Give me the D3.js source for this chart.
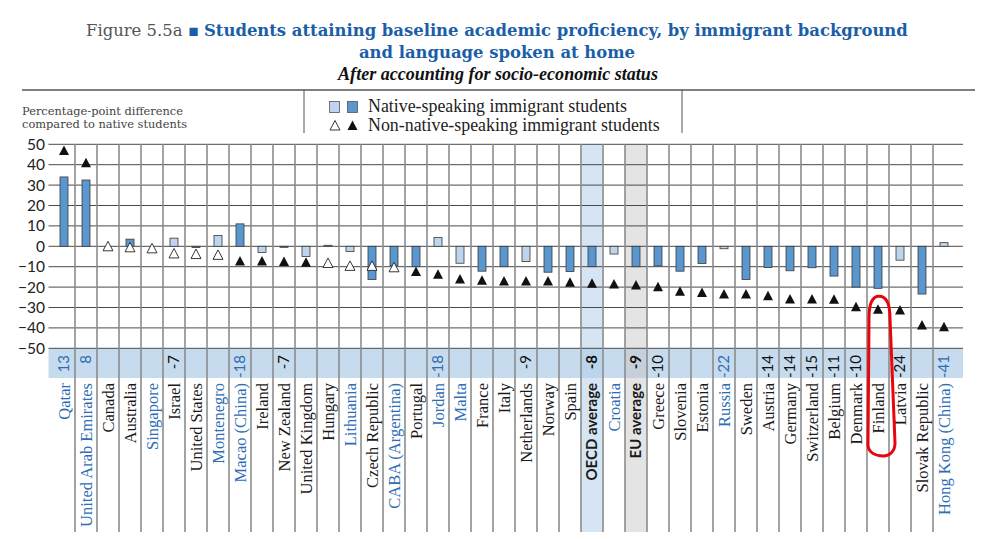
<!DOCTYPE html>
<html><head><meta charset="utf-8">
<script src="https://cdn.jsdelivr.net/npm/d3@7"></script>
<style>body{margin:0;background:#fff}svg{display:block}</style>
</head><body>
<svg id="c" width="1000" height="539"></svg>
<script>
const countries = ["Qatar","United Arab Emirates","Canada","Australia","Singapore","Israel","United States","Montenegro","Macao (China)","Ireland","New Zealand","United Kingdom","Hungary","Lithuania","Czech Republic","CABA (Argentina)","Portugal","Jordan","Malta","France","Italy","Netherlands","Norway","Spain","OECD average","Croatia","EU average","Greece","Slovenia","Estonia","Russia","Sweden","Austria","Germany","Switzerland","Belgium","Denmark","Finland","Latvia","Slovak Republic","Hong Kong (China)"];
const partner = ["Qatar","United Arab Emirates","Singapore","Montenegro","Macao (China)","Lithuania","CABA (Argentina)","Jordan","Malta","Croatia","Russia","Hong Kong (China)"];
const averages = ["OECD average","EU average"];
// Native-speaking immigrant students (bars); sig = 1 dark, 0 light
const nativeValues = [34,32.5,null,3.5,null,4,-0.6,5.3,11,-3,-0.5,-5,0.5,-2.5,-16.3,-9.5,-10,4.3,-8.3,-12.2,-10,-7.5,-12.7,-12.4,-10,-3.8,-10,-9.6,-12.2,-8.4,-1.2,-16.3,-10.4,-12,-10.5,-14.6,-20,-20.6,-6.8,-23.4,1.8];
const nativeSig = [1,1,0,1,0,0,1,0,1,0,1,0,0,0,1,1,1,0,0,1,1,0,1,1,1,0,1,1,1,1,0,1,1,1,1,1,1,1,0,1,0];
// Non-native-speaking immigrant students (triangles)
const nonNativeValues = [47,41,0,-0.5,-1,-3.5,-3.8,-4.2,-7.2,-7.2,-7.5,-7.8,-8.2,-9.6,-9.6,-10.3,-12.4,-13.7,-16,-16.7,-17,-17,-17,-17.6,-18.1,-18.5,-19,-19.8,-22,-22.7,-23.4,-23.4,-24.3,-25.8,-25.8,-26,-29.6,-30.9,-31.2,-38.6,-39.4];
const nonNativeSig = [1,1,0,0,0,0,0,0,1,1,1,1,0,0,0,0,1,1,1,1,1,1,1,1,1,1,1,1,1,1,1,1,1,1,1,1,1,1,1,1,1];
// Row of values shown in the band
const bandValues = [13,8,null,null,null,-7,null,null,-18,null,-7,null,null,null,null,null,null,-18,null,null,null,-9,null,null,-8,null,-9,-10,null,null,-22,null,-14,-14,-15,-11,-10,null,-24,null,-41];
const yTicks = [50,40,30,20,10,0,-10,-20,-30,-40,-50];

const svg = d3.select("#c");
const DARK = "#5b97cf", LIGHT = "#bcd4ec", BLUE_TXT = "#2d6db4", TITLE_BLUE = "#1b5ea8";
const SERIF = "'DejaVu Serif', serif", TSERIF = "'Liberation Serif', serif", SANS = "Lato, 'Open Sans', sans-serif";

function fit(sel, target){
  sel.style("font-size","20px");
  const w = sel.node().getComputedTextLength();
  sel.style("font-size",(20*target/w).toFixed(2)+"px");
  return sel;
}

const x = d3.scaleBand().domain(countries).range([53,955]).padding(0);
const y = d3.scaleLinear().domain([-50,50]).range([348.3,144.3]);
const plotL = 48.5, plotR = 963, bandBottom = 378, vBottom = 532;

// title
const t1 = svg.append("text").attr("y",36).attr("text-anchor","start");
t1.append("tspan").attr("fill","#555").attr("font-family",SERIF).attr("font-weight","300").text("Figure 5.5a ");
t1.append("tspan").attr("fill",TITLE_BLUE).attr("font-family",SERIF).text("\u25AA ");
t1.append("tspan").attr("fill",TITLE_BLUE).attr("font-family",SERIF).attr("font-weight","bold").text("Students attaining baseline academic proficiency, by immigrant background");
fit(t1, 822);
t1.attr("x", 86);
const t2 = svg.append("text").attr("x",497).attr("y",58).attr("text-anchor","middle")
  .attr("fill",TITLE_BLUE).attr("font-family",SERIF).attr("font-weight","bold")
  .text("and language spoken at home");
t2.style("font-size", t1.style("font-size"));
const t3 = svg.append("text").attr("x",498).attr("y",80).attr("text-anchor","middle")
  .attr("fill","#111").attr("font-family",TSERIF).attr("font-style","italic").attr("font-weight","bold")
  .text("After accounting for socio-economic status");
fit(t3, 320);

// header rule and legend dividers
svg.append("line").attr("x1",22).attr("x2",975).attr("y1",90).attr("y2",90).attr("stroke","#555").attr("stroke-width",1.5);
[304,682].forEach(xx=>svg.append("line").attr("x1",xx).attr("x2",xx).attr("y1",90).attr("y2",133).attr("stroke","#555").attr("stroke-width",1));
const lt1 = svg.append("text").attr("x",22).attr("y",115).attr("fill","#444").attr("font-family",SERIF).text("Percentage-point difference");
fit(lt1,161);
svg.append("text").attr("x",22).attr("y",128).attr("fill","#444").attr("font-family",SERIF).style("font-size",lt1.style("font-size")).text("compared to native students");

// legend
svg.append("rect").attr("x",329.5).attr("y",101.5).attr("width",10).attr("height",11).attr("fill",LIGHT).attr("stroke","#555").attr("stroke-width",0.8);
svg.append("rect").attr("x",347.5).attr("y",101.5).attr("width",10).attr("height",11).attr("fill",DARK).attr("stroke","#555").attr("stroke-width",0.8);
const tri = "M0,-5L5,4.5L-5,4.5Z";
svg.append("path").attr("d",tri).attr("transform","translate(335,125.5)").attr("fill","#fff").attr("stroke","#222").attr("stroke-width",0.9);
svg.append("path").attr("d",tri).attr("transform","translate(352.5,125.5)").attr("fill","#111");
const lg1 = svg.append("text").attr("x",368).attr("y",112).attr("fill","#222").attr("font-family",TSERIF).text("Native-speaking immigrant students");
fit(lg1,259);
svg.append("text").attr("x",368).attr("y",131).attr("fill","#222").attr("font-family",TSERIF).style("font-size",lg1.style("font-size")).text("Non-native-speaking immigrant students");

// label band
svg.append("rect").attr("x",plotL).attr("y",y(-50)).attr("width",plotR-plotL).attr("height",bandBottom-y(-50)).attr("fill","#c7dbee");
// average column shading
svg.selectAll("rect.avg").data(averages).join("rect").attr("class","avg")
  .attr("x",d=>x(d)).attr("width",x.bandwidth()).attr("y",y(50)).attr("height",vBottom-y(50))
  .attr("fill",d=>d==="OECD average"?"#b4d0ea":"#c4c4c4").attr("fill-opacity",d=>d==="OECD average"?0.55:0.45);

// horizontal grid
svg.selectAll("line.h").data(yTicks).join("line").attr("class","h")
  .attr("x1",plotL).attr("x2",plotR).attr("y1",d=>y(d)).attr("y2",d=>y(d))
  .attr("stroke","#4a4a4a").attr("stroke-width",1);
// vertical grid
svg.selectAll("line.v").data(countries.slice(1)).join("line").attr("class","v")
  .attr("x1",d=>x(d)).attr("x2",d=>x(d)).attr("y1",y(50)).attr("y2",vBottom)
  .attr("stroke","#8c8c8c").attr("stroke-width",1.6);

// y axis labels
const yAxis = d3.axisLeft(y).tickValues(yTicks).tickSize(0).tickPadding(0).tickFormat(d3.format("d"));
const ga = svg.append("g").attr("transform","translate(45,0)").call(yAxis);
ga.select(".domain").remove();
ga.selectAll("text").attr("font-family",SANS).style("font-size","15.5px").attr("fill","#222");

// bars
const bw = 8;
svg.selectAll("rect.bar").data(countries.map((c,i)=>({c,v:nativeValues[i],s:nativeSig[i]})).filter(d=>d.v!==null))
  .join("rect").attr("class","bar")
  .attr("x",d=>x(d.c)+x.bandwidth()/2-bw/2).attr("width",bw)
  .attr("y",d=>y(Math.max(0,d.v))).attr("height",d=>Math.abs(y(d.v)-y(0)))
  .attr("fill",d=>d.s?DARK:LIGHT).attr("stroke","#3a3a3a").attr("stroke-width",0.8);

// triangles
svg.selectAll("path.tri").data(countries.map((c,i)=>({c,v:nonNativeValues[i],s:nonNativeSig[i]})))
  .join("path").attr("class","tri").attr("d",tri)
  .attr("transform",d=>`translate(${x(d.c)+x.bandwidth()/2},${y(d.v)})`)
  .attr("fill",d=>d.s?"#111":"#fff").attr("stroke",d=>d.s?"none":"#222").attr("stroke-width",0.9);

// band values
svg.selectAll("text.bv").data(countries.map((c,i)=>({c,v:bandValues[i]})).filter(d=>d.v!==null))
  .join("text").attr("class","bv")
  .attr("transform",d=>`translate(${x(d.c)+x.bandwidth()/2},355) rotate(-90)`)
  .attr("text-anchor","end").attr("dy","0.36em")
  .attr("font-family",SANS).style("font-size","15px")
  .attr("font-weight",d=>averages.includes(d.c)?"bold":"normal")
  .attr("fill",d=>partner.includes(d.c)?BLUE_TXT:"#111")
  .text(d=>d.v);

// country labels
const probe = svg.append("text").attr("font-family",TSERIF).text("United Arab Emirates");
fit(probe,144);
const cfs = probe.style("font-size"); probe.remove();
svg.selectAll("text.cl").data(countries).join("text").attr("class","cl")
  .attr("transform",d=>`translate(${x(d)+x.bandwidth()/2},383) rotate(-90)`)
  .attr("text-anchor","end").attr("dy","0.36em")
  .attr("font-family",d=>averages.includes(d)?SANS:TSERIF)
  .attr("font-weight",d=>averages.includes(d)?"bold":"normal")
  .style("font-size",d=>averages.includes(d)?"15px":cfs)
  .attr("fill",d=>partner.includes(d)?BLUE_TXT:"#1a1a1a")
  .text(d=>d);

// red hand-drawn annotation around Finland
const fx = x("Finland")+x.bandwidth()/2, ft = y(-24.5);
const ann = `M${fx+12},${ft+22} C${fx+12},${ft+4} ${fx+6},${ft} ${fx+1},${ft} C${fx-6},${ft} ${fx-9},${ft+9} ${fx-9},${ft+22} L${fx-10},445 C${fx-10},452 ${fx-3},456 ${fx+5},456 C${fx+12},456 ${fx+17},451 ${fx+17},443 L${fx+12},${ft+22}`;
svg.append("path").attr("d",ann).attr("fill","none").attr("stroke","#e8060c").attr("stroke-width",3).attr("stroke-linejoin","round");
</script>
</body></html>
